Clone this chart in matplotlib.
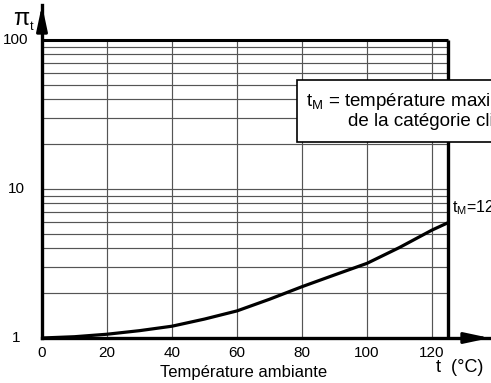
import numpy as np
import matplotlib
matplotlib.use("Agg")
import matplotlib.pyplot as plt
from matplotlib.transforms import blended_transform_factory

plt.rcParams['font.family'] = ['Liberation Sans', 'DejaVu Sans']

# Temperature factor pi_t versus ambient temperature
temps = [0, 10, 20, 30, 40, 50, 60, 70, 80, 90, 100, 110, 120, 125]
pi_t = [1.00, 1.02, 1.06, 1.12, 1.20, 1.34, 1.52, 1.82, 2.21, 2.65, 3.17, 4.05, 5.30, 5.95]

x_ticks = [0, 20, 40, 60, 80, 100, 120]
x_grid = [20, 40, 60, 80, 100, 120]
y_labels = [1, 10, 100]
y_grid = [2, 3, 4, 5, 6, 7, 8, 9, 10, 20, 30, 40, 50, 60, 70, 80, 90]
t_max = 125

W, H = 491, 383
fig = plt.figure(figsize=(W / 100, H / 100), dpi=100)
ax = fig.add_axes([42 / W, (H - 338) / H, (490 - 42) / W, (338 - 5) / H])
ax.set_yscale('log')
ax.set_xlim(0, (490 - 42) / 3.25)
ax.set_ylim(1, 10 ** ((338 - 5) / 149))

for s in ['top', 'right']:
    ax.spines[s].set_visible(False)
for s in ['left', 'bottom']:
    ax.spines[s].set_linewidth(2.4)

# grid lines, bounded by t_max and 100
ax.hlines(y_grid, 0, t_max, color='#555555', lw=0.85, zorder=1)
ax.vlines(x_grid, 1, 100, color='#555555', lw=0.85, zorder=1)
ax.hlines([100], 0, t_max, color='black', lw=2.2, zorder=3)
ax.vlines([t_max], 1, 100, color='black', lw=2.4, zorder=3)

# curve
ax.plot(temps, pi_t, color='black', lw=2.3, zorder=4, solid_capstyle='butt')

# ticks
ax.set_xticks(x_ticks)
ax.set_xticklabels([str(v) for v in x_ticks], fontsize=11)
ax.tick_params(axis='x', length=0, pad=6)
ax.set_yticks([])
ax.yaxis.set_minor_locator(matplotlib.ticker.NullLocator())
ytr = blended_transform_factory(ax.transAxes, ax.transData)
for v in y_labels:
    ax.text(-26 / 448, v, str(v), transform=ytr, ha='center', va='center', fontsize=11)

# axis arrows
ax.annotate('', xy=(1.0, 0), xycoords='axes fraction', xytext=(0.95, 0),
            arrowprops=dict(arrowstyle='-|>,head_length=1.5,head_width=0.32',
                            color='black', lw=2.2, shrinkA=0, shrinkB=0))
ax.annotate('', xy=(0, 1.0), xycoords='axes fraction', xytext=(0, 0.95),
            arrowprops=dict(arrowstyle='-|>,head_length=1.5,head_width=0.32',
                            color='black', lw=2.2, shrinkA=0, shrinkB=0))

# axis titles
fig.text(13 / W, 1 - 19 / H, 'π', fontsize=17, ha='left', va='center')
fig.text(30 / W, 1 - 27 / H, 't', fontsize=9, ha='left', va='center')
fig.text(244 / W, 1 - 373 / H, 'Température ambiante', fontsize=12, ha='center', va='center')
fig.text(436 / W, 1 - 368 / H, 't  (°C)', fontsize=13, ha='left', va='center')

# limit label on the t_max line
fig.text(452 / W, 1 - 208 / H, 't$_\\mathregular{M}$=125 °C', fontsize=11.5, ha='left', va='center')

# legend box
box_l, box_t, box_b = 297, 80, 142
fig.patches.append(plt.Rectangle((box_l / W, 1 - box_b / H), (W + 50 - box_l) / W, (box_b - box_t) / H,
                                 transform=fig.transFigure, facecolor='white', edgecolor='black',
                                 lw=1.2, zorder=5))
fig.text(306 / W, 1 - 101 / H, 't$_\\mathregular{M}$ = température maximale', fontsize=13.5,
         ha='left', va='center', zorder=6)
fig.text(348 / W, 1 - 121 / H, 'de la catégorie climatique', fontsize=13.5,
         ha='left', va='center', zorder=6)

fig.savefig('out.png', dpi=100)
